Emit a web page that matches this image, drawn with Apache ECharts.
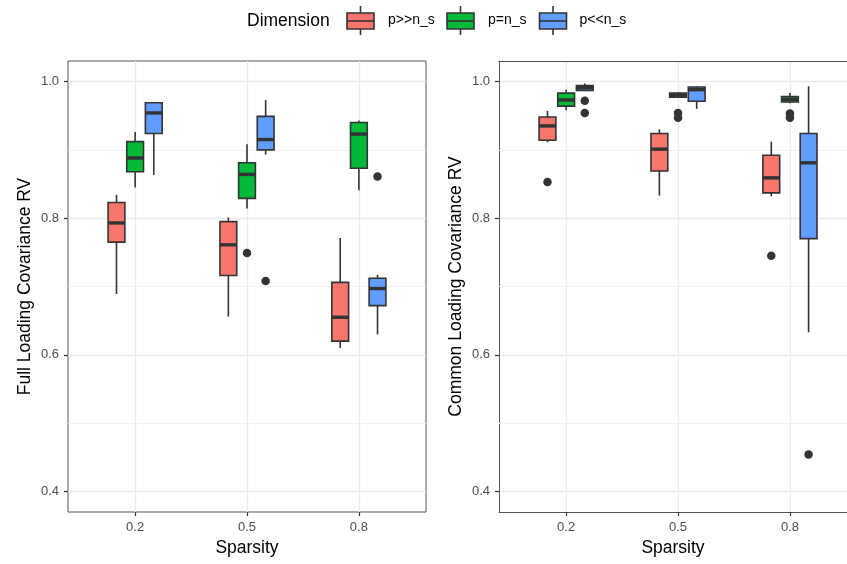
<!DOCTYPE html>
<html>
<head>
<meta charset="utf-8">
<script src="https://cdn.jsdelivr.net/npm/echarts@6/dist/echarts.min.js"></script>
<style>
html,body{margin:0;padding:0;background:#fff;}
#chart{width:847px;height:564px;}
</style>
</head>
<body>
<div id="chart"></div>
<script>
// ---------------- data ----------------
const sparsity = ['0.2', '0.5', '0.8'];
const dimensions = ['p>>n_s', 'p=n_s', 'p<<n_s'];
const yTicks = [0.4, 0.6, 0.8, 1.0];
const yMinorTicks = [0.5, 0.7, 0.9];

// [low whisker, Q1, median, Q3, high whisker] per sparsity level
const full_pgg = [[0.689, 0.765, 0.793, 0.823, 0.834], [0.656, 0.716, 0.761, 0.795, 0.801], [0.610, 0.620, 0.655, 0.706, 0.771]];
const full_peq = [[0.845, 0.868, 0.888, 0.912, 0.926], [0.814, 0.829, 0.864, 0.881, 0.908], [0.841, 0.873, 0.923, 0.940, 0.943]];
const full_pll = [[0.863, 0.924, 0.954, 0.969, 0.970], [0.893, 0.900, 0.915, 0.949, 0.973], [0.630, 0.672, 0.697, 0.712, 0.717]];
// outliers: [sparsity, value]
const full_out_pgg = [];
const full_out_peq = [['0.5', 0.749]];
const full_out_pll = [['0.5', 0.708], ['0.8', 0.861]];

const common_pgg = [[0.911, 0.914, 0.935, 0.948, 0.957], [0.833, 0.869, 0.901, 0.924, 0.930], [0.832, 0.837, 0.859, 0.892, 0.912]];
const common_peq = [[0.958, 0.964, 0.973, 0.983, 0.988], [0.976, 0.977, 0.980, 0.983, 0.984], [0.968, 0.970, 0.974, 0.978, 0.983]];
const common_pll = [[0.986, 0.987, 0.991, 0.994, 0.997], [0.960, 0.971, 0.988, 0.992, 0.993], [0.633, 0.770, 0.881, 0.924, 0.993]];
const common_out_pgg = [['0.2', 0.853], ['0.8', 0.745]];
const common_out_peq = [['0.5', 0.954], ['0.5', 0.947], ['0.8', 0.953], ['0.8', 0.947]];
const common_out_pll = [['0.2', 0.972], ['0.2', 0.954], ['0.8', 0.454]];

// ---------------- style ----------------
const colors = ['#F8766D', '#00BA38', '#619CFF'];
const DODGE = 1 / 6;      // centre spacing of dodged boxes (category units)
const BOX_W = 0.15;       // box width (category units)
const LINE = '#333333';
const BORDER = '#555555';
const FONT = '"Liberation Sans", Arial, sans-serif';

// right panel is cut by the picture edge, so its x range stops early
const panels = [
  { title: 'Full Loading Covariance RV', boxes: [full_pgg, full_peq, full_pll], outs: [full_out_pgg, full_out_peq, full_out_pll], left: 68, width: 358, xMax: 3.6, border: true },
  { title: 'Common Loading Covariance RV', boxes: [common_pgg, common_peq, common_pll], outs: [common_out_pgg, common_out_peq, common_out_pll], left: 499, width: 348, xMax: 3.51, border: false }
];

function renderBox(params, api) {
  const x = api.value(0);
  const low = api.coord([x, api.value(1)]);
  const q1 = api.coord([x, api.value(2)]);
  const med = api.coord([x, api.value(3)]);
  const q3 = api.coord([x, api.value(4)]);
  const high = api.coord([x, api.value(5)]);
  const hw = api.size([BOX_W, 0])[0] / 2;
  const cx = med[0];
  const color = api.visual('color');
  return {
    type: 'group',
    children: [
      { type: 'line', shape: { x1: cx, y1: high[1], x2: cx, y2: q3[1] }, style: { stroke: LINE, lineWidth: 1.6 } },
      { type: 'line', shape: { x1: cx, y1: q1[1], x2: cx, y2: low[1] }, style: { stroke: LINE, lineWidth: 1.6 } },
      { type: 'rect', shape: { x: cx - hw, y: q3[1], width: 2 * hw, height: q1[1] - q3[1] }, style: { fill: color, stroke: LINE, lineWidth: 1.6 } },
      { type: 'line', shape: { x1: cx - hw, y1: med[1], x2: cx + hw, y2: med[1] }, style: { stroke: LINE, lineWidth: 3.4 } }
    ]
  };
}

const grids = [], xAxes = [], yAxes = [], series = [];
panels.forEach(function (p, pi) {
  grids.push({ left: p.left, top: 61, width: p.width, height: 451, show: p.border, borderColor: BORDER, borderWidth: 1, backgroundColor: 'transparent' });
  xAxes.push({
    gridIndex: pi, type: 'value', min: 0.4, max: p.xMax,
    name: 'Sparsity', nameLocation: 'middle', nameGap: 27,
    nameTextStyle: { fontFamily: FONT, fontSize: 17.5, color: '#000' },
    axisLine: { show: !p.border, lineStyle: { color: BORDER, width: 1 } },
    axisTick: { show: true, length: 4, customValues: [1, 2, 3], lineStyle: { color: LINE, width: 1.2 } },
    axisLabel: { customValues: [1, 2, 3], margin: 9, fontFamily: FONT, fontSize: 13, color: '#4d4d4d',
      formatter: function (v) { return sparsity[Math.round(v) - 1]; } },
    splitLine: { show: true, lineStyle: { color: '#ebebeb', width: 1.4 } }
  });
  yAxes.push({
    gridIndex: pi, type: 'value', min: 0.37, max: 1.03,
    name: p.title, nameLocation: 'middle', nameGap: 33.5,
    nameTextStyle: { fontFamily: FONT, fontSize: 17.5, color: '#000' },
    axisLine: { show: !p.border, lineStyle: { color: BORDER, width: 1 } },
    axisTick: { show: true, length: 4, customValues: yTicks, lineStyle: { color: LINE, width: 1.2 } },
    axisLabel: { customValues: yTicks, margin: 9, fontFamily: FONT, fontSize: 13, color: '#4d4d4d',
      formatter: function (v) { return v.toFixed(1); } },
    splitLine: { show: true, lineStyle: { color: '#ebebeb', width: 1.4 } }
  });
  if (!p.border) {
    // top edge of the cut panel
    xAxes.push({
      gridIndex: pi, type: 'value', min: 0.4, max: p.xMax, position: 'top',
      axisLine: { show: true, lineStyle: { color: BORDER, width: 1 } },
      axisTick: { show: false }, axisLabel: { show: false }, splitLine: { show: false }
    });
  }
  p.boxes.forEach(function (arr, g) {
    const data = arr.map(function (b, ci) { return [ci + 1 + (g - 1) * DODGE].concat(b); });
    series.push({
      type: 'custom', name: dimensions[g], xAxisIndex: pi, yAxisIndex: pi, z: 3,
      itemStyle: { color: colors[g] },
      renderItem: renderBox,
      encode: { x: 0, y: [1, 2, 3, 4, 5] },
      data: data,
      silent: true
    });
    const outData = p.outs[g].map(function (o) { return [sparsity.indexOf(o[0]) + 1 + (g - 1) * DODGE, o[1]]; });
    const s = {
      type: 'scatter', name: dimensions[g] + ' outliers', xAxisIndex: pi, yAxisIndex: pi, z: 4,
      symbolSize: 8.5, itemStyle: { color: LINE, opacity: 1 }, data: outData, silent: true
    };
    if (g === 0) {
      s.markLine = {
        silent: true, symbol: 'none', label: { show: false },
        lineStyle: { color: '#f2f2f2', width: 1, type: 'solid' },
        data: yMinorTicks.map(function (v) { return { yAxis: v }; }),
        z: 1
      };
    }
    series.push(s);
  });
});

// legend drawn with graphic primitives
const legendItems = [];
legendItems.push({ type: 'text', left: 247, top: 12, style: { text: 'Dimension', fontFamily: FONT, fontSize: 17.5, fill: '#000' } });
const keyX = [347, 447, 539.5];
const labX = [388, 488, 579.5];
dimensions.forEach(function (d, g) {
  const x0 = keyX[g], w = 27, cx = x0 + w / 2;
  legendItems.push({ type: 'line', shape: { x1: cx, y1: 6, x2: cx, y2: 35 }, style: { stroke: LINE, lineWidth: 1.6 } });
  legendItems.push({ type: 'rect', shape: { x: x0, y: 13, width: w, height: 16 }, style: { fill: colors[g], stroke: LINE, lineWidth: 1.6 } });
  legendItems.push({ type: 'line', shape: { x1: x0, y1: 21, x2: x0 + w, y2: 21 }, style: { stroke: LINE, lineWidth: 1.6 } });
  legendItems.push({ type: 'text', left: labX[g], top: 13, style: { text: d, fontFamily: FONT, fontSize: 14, fill: '#000' } });
});

const chart = echarts.init(document.getElementById('chart'), null, { renderer: 'canvas' });
chart.setOption({
  animation: false,
  backgroundColor: '#ffffff',
  grid: grids,
  xAxis: xAxes,
  yAxis: yAxes,
  series: series,
  graphic: legendItems
});
</script>
</body>
</html>
